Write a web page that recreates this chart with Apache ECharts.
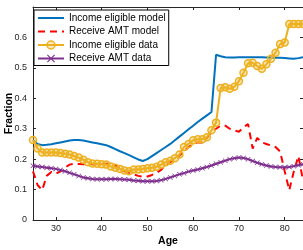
<!DOCTYPE html>
<html>
<head>
<meta charset="utf-8">
<script src="https://cdn.jsdelivr.net/npm/echarts@6/dist/echarts.min.js"></script>
<style>
  html, body { margin: 0; padding: 0; background: #fff; }
  #chart { width: 303px; height: 250px; }
</style>
</head>
<body>
<div id="chart"></div>
<script>
//////////////////////////////////////////////////////////////////
// [ Data ]

var ages = [25, 26, 27, 28, 29, 30, 31, 32, 33, 34,
            35, 36, 37, 38, 39, 40, 41, 42, 43, 44,
            45, 46, 47, 48, 49, 50, 51, 52, 53, 54,
            55, 56, 57, 58, 59, 60, 61, 62, 63, 64,
            65, 66, 67, 68, 69, 70, 71, 72, 73, 74,
            75, 76, 77, 78, 79, 80, 81, 82, 83, 84];

var incomeEligibleModel = [0.262, 0.25, 0.246, 0.247, 0.249, 0.252, 0.255, 0.258, 0.261, 0.263,
                           0.263, 0.261, 0.258, 0.255, 0.252, 0.249, 0.246, 0.24, 0.233, 0.226,
                           0.22, 0.213, 0.206, 0.199, 0.194, 0.2, 0.21, 0.22, 0.23, 0.24,
                           0.25, 0.262, 0.274, 0.286, 0.298, 0.31, 0.322, 0.333, 0.344, 0.355,
                           0.543, 0.538, 0.535, 0.534, 0.534, 0.535, 0.535, 0.535, 0.535, 0.535,
                           0.535, 0.534, 0.534, 0.533, 0.533, 0.532, 0.531, 0.53, 0.532, 0.535];

var receiveAmtModel = [0.16, 0.115, 0.098, 0.145, 0.158, 0.152, 0.16, 0.172, 0.182, 0.185,
                       0.184, 0.183, 0.183, 0.183, 0.183, 0.184, 0.185, 0.186, 0.18, 0.17,
                       0.16, 0.155, 0.15, 0.145, 0.142, 0.143, 0.148, 0.155, 0.165, 0.18,
                       0.19, 0.2, 0.212, 0.225, 0.24, 0.25, 0.255, 0.255, 0.27, 0.29,
                       0.3, 0.31, 0.31, 0.3, 0.295, 0.29, 0.305, 0.315, 0.235, 0.27,
                       0.255, 0.25, 0.245, 0.24, 0.225, 0.16, 0.098, 0.16, 0.21, 0.13];

var incomeEligibleData = [0.263, 0.235, 0.222, 0.222, 0.222, 0.222, 0.22, 0.218, 0.215, 0.21,
                          0.205, 0.198, 0.19, 0.186, 0.185, 0.183, 0.182, 0.176, 0.172, 0.168,
                          0.163, 0.16, 0.166, 0.166, 0.168, 0.17, 0.172, 0.175, 0.182, 0.19,
                          0.195, 0.203, 0.215, 0.24, 0.25, 0.262, 0.265, 0.265, 0.272, 0.295,
                          0.32, 0.434, 0.436, 0.431, 0.438, 0.456, 0.484, 0.515, 0.517, 0.506,
                          0.497, 0.512, 0.53, 0.55, 0.578, 0.583, 0.644, 0.644, 0.644, 0.644];

var receiveAmtData = [0.178, 0.176, 0.174, 0.172, 0.17, 0.168, 0.164, 0.16, 0.155, 0.15,
                      0.145, 0.14, 0.137, 0.135, 0.134, 0.134, 0.134, 0.135, 0.135, 0.134,
                      0.133, 0.132, 0.13, 0.129, 0.127, 0.127, 0.127, 0.128, 0.131, 0.135,
                      0.14, 0.145, 0.15, 0.154, 0.159, 0.163, 0.166, 0.17, 0.174, 0.179,
                      0.185, 0.19, 0.195, 0.2, 0.203, 0.205, 0.204, 0.2, 0.194, 0.188,
                      0.183, 0.179, 0.176, 0.174, 0.173, 0.173, 0.174, 0.177, 0.18, 0.183];

var xTicks = [30, 40, 50, 60, 70, 80];
var yTicks = [0, 0.1, 0.2, 0.3, 0.4, 0.5, 0.6];

//////////////////////////////////////////////////////////////////
// [ Chart ]

var FONT = '"Liberation Sans", Arial, Helvetica, sans-serif';
var AXIS_COLOR = '#262626';
var crossPath = 'path://M0,1 L1,0 L5,4 L9,0 L10,1 L6,5 L10,9 L9,10 L5,6 L1,10 L0,9 L4,5 Z';

function pairs(values) {
    return ages.map(function (a, i) { return [a, values[i]]; });
}

var boxAxis = {
    axisLine: { show: true, onZero: false, lineStyle: { color: AXIS_COLOR, width: 1 } },
    axisLabel: { show: false },
    splitLine: { show: false }
};

var chart = echarts.init(document.getElementById('chart'), null, { renderer: 'canvas' });

var options = {
    animation: false,
    backgroundColor: '#fff',
    textStyle: { fontFamily: FONT },
    grid: { left: 33, right: 0, top: 7, bottom: 30, containLabel: false, outerBoundsMode: 'none' },
    legend: {
        orient: 'vertical',
        left: 34,
        top: 10,
        padding: [3, 3, 2, 3],
        itemWidth: 26,
        itemHeight: 10,
        itemGap: 3.5,
        backgroundColor: '#fff',
        borderColor: '#000',
        borderWidth: 1,
        borderRadius: 0,
        textStyle: { fontFamily: FONT, fontSize: 10, color: '#000', lineHeight: 10 },
        data: [
            { name: 'Income eligible model', itemStyle: { opacity: 0 } },
            { name: 'Receive AMT model', itemStyle: { opacity: 0 } },
            { name: 'Income eligible data', itemStyle: { borderWidth: 1.5 } },
            { name: 'Receive AMT data' }
        ]
    },
    xAxis: [
        {
            type: 'value',
            min: 25,
            max: 84,
            name: 'Age',
            nameLocation: 'middle',
            nameGap: 16,
            nameMoveOverlap: false,
            nameTextStyle: { fontFamily: FONT, fontSize: 10.5, fontWeight: 'bold', color: '#000' },
            axisLine: { show: true, onZero: false, lineStyle: { color: AXIS_COLOR, width: 1 } },
            axisTick: { show: true, inside: true, length: 3, customValues: xTicks, lineStyle: { color: AXIS_COLOR } },
            axisLabel: { customValues: xTicks, fontFamily: FONT, fontSize: 9, color: AXIS_COLOR, margin: 4 },
            splitLine: { show: false }
        },
        Object.assign({ type: 'value', min: 25, max: 84, position: 'top' }, boxAxis, {
            axisTick: { show: true, inside: true, length: 3, customValues: xTicks, lineStyle: { color: AXIS_COLOR } }
        })
    ],
    yAxis: [
        {
            type: 'value',
            min: 0,
            max: 0.7,
            name: 'Fraction',
            nameLocation: 'middle',
            nameGap: 18,
            nameMoveOverlap: false,
            nameTextStyle: { fontFamily: FONT, fontSize: 10.5, fontWeight: 'bold', color: '#000' },
            axisLine: { show: true, onZero: false, lineStyle: { color: AXIS_COLOR, width: 1 } },
            axisTick: { show: true, inside: true, length: 3, customValues: yTicks, lineStyle: { color: AXIS_COLOR } },
            axisLabel: {
                customValues: yTicks,
                fontFamily: FONT,
                fontSize: 9,
                color: AXIS_COLOR,
                margin: 6,
                formatter: function (v) { return v === 0 ? '0' : v.toFixed(1); }
            },
            splitLine: { show: false }
        },
        Object.assign({ type: 'value', min: 0, max: 0.7, position: 'right' }, boxAxis, {
            axisTick: { show: true, inside: true, length: 3, customValues: yTicks, lineStyle: { color: AXIS_COLOR } }
        })
    ],
    series: [
        {
            name: 'Income eligible model',
            type: 'line',
            data: pairs(incomeEligibleModel),
            showSymbol: false,
            symbol: 'circle',
            lineStyle: { color: '#0072BD', width: 2 },
            itemStyle: { color: '#0072BD' },
            z: 2
        },
        {
            name: 'Receive AMT model',
            type: 'line',
            data: pairs(receiveAmtModel),
            showSymbol: false,
            symbol: 'circle',
            lineStyle: { color: '#FF0000', width: 2, type: [7, 5] },
            itemStyle: { color: '#FF0000' },
            z: 3
        },
        {
            name: 'Income eligible data',
            type: 'line',
            data: pairs(incomeEligibleData),
            symbol: 'circle',
            symbolSize: 7,
            lineStyle: { color: '#EDB120', width: 2 },
            itemStyle: { color: 'rgba(237,177,32,0.3)', borderColor: '#EDB120', borderWidth: 1.5 },
            z: 4
        },
        {
            name: 'Receive AMT data',
            type: 'line',
            data: pairs(receiveAmtData),
            symbol: crossPath,
            symbolSize: 5,
            lineStyle: { color: '#7E2F8E', width: 2 },
            itemStyle: { color: '#7E2F8E' },
            z: 5
        }
    ]
};

chart.setOption(options);

window.addEventListener('resize', function () {
    chart.resize();
});
</script>
</body>
</html>
